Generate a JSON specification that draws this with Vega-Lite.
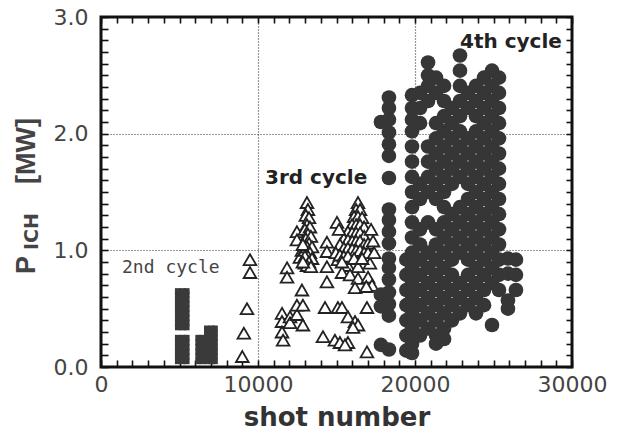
{
  "$schema": "https://vega.github.io/schema/vega-lite/v6.json",
  "width": 471,
  "height": 350,
  "autosize": {"type": "none"},
  "padding": {"left": 101, "top": 17, "right": 50, "bottom": 67},
  "background": "white",
  "config": {"view": {"stroke": "#111111", "strokeWidth": 3}},
  "datasets": {
    "second": [
      {"x":4900,"y":0.05},{"x":4900,"y":0.09},{"x":4900,"y":0.13},{"x":4900,"y":0.17},{"x":4900,"y":0.21},{"x":4900,"y":0.25},{"x":4900,"y":0.34},{"x":4900,"y":0.38},{"x":4900,"y":0.42},{"x":4900,"y":0.46},{"x":4900,"y":0.50},{"x":4900,"y":0.54},{"x":4900,"y":0.58},{"x":4900,"y":0.62},{"x":4900,"y":0.65},
      {"x":5200,"y":0.05},{"x":5200,"y":0.09},{"x":5200,"y":0.13},{"x":5200,"y":0.17},{"x":5200,"y":0.21},{"x":5200,"y":0.25},{"x":5200,"y":0.34},{"x":5200,"y":0.38},{"x":5200,"y":0.42},{"x":5200,"y":0.46},{"x":5200,"y":0.50},{"x":5200,"y":0.54},{"x":5200,"y":0.58},{"x":5200,"y":0.62},{"x":5200,"y":0.65},
      {"x":5450,"y":0.05},{"x":5450,"y":0.09},{"x":5450,"y":0.13},{"x":5450,"y":0.17},{"x":5450,"y":0.21},{"x":5450,"y":0.25},{"x":5450,"y":0.34},{"x":5450,"y":0.38},{"x":5450,"y":0.42},{"x":5450,"y":0.46},{"x":5450,"y":0.50},{"x":5450,"y":0.54},{"x":5450,"y":0.58},{"x":5450,"y":0.62},{"x":5450,"y":0.65},
      {"x":6200,"y":0.05},{"x":6200,"y":0.09},{"x":6200,"y":0.13},{"x":6200,"y":0.17},{"x":6200,"y":0.21},{"x":6200,"y":0.25},
      {"x":6450,"y":0.05},{"x":6450,"y":0.09},{"x":6450,"y":0.13},{"x":6450,"y":0.17},{"x":6450,"y":0.21},{"x":6450,"y":0.25},
      {"x":6750,"y":0.05},{"x":6750,"y":0.09},{"x":6750,"y":0.13},{"x":6750,"y":0.17},{"x":6750,"y":0.21},{"x":6750,"y":0.25},{"x":6750,"y":0.29},{"x":6750,"y":0.33},
      {"x":7050,"y":0.05},{"x":7050,"y":0.09},{"x":7050,"y":0.13},{"x":7050,"y":0.17},{"x":7050,"y":0.21},{"x":7050,"y":0.25},{"x":7050,"y":0.29},{"x":7050,"y":0.33},
      {"x":7250,"y":0.05},{"x":7250,"y":0.09},{"x":7250,"y":0.13},{"x":7250,"y":0.17},{"x":7250,"y":0.21},{"x":7250,"y":0.25},{"x":7250,"y":0.29},{"x":7250,"y":0.33}
    ],
    "third": [
      {"x":9490,"y":0.92},{"x":9490,"y":0.81},{"x":9300,"y":0.50},{"x":9100,"y":0.29},{"x":9000,"y":0.09},
      {"x":11530,"y":0.46},{"x":11530,"y":0.39},{"x":11530,"y":0.30},{"x":11600,"y":0.23},{"x":12040,"y":0.43},{"x":12040,"y":0.38},{"x":12480,"y":0.45},{"x":12480,"y":0.53},{"x":12860,"y":0.53},{"x":12860,"y":0.36},{"x":12800,"y":0.66},{"x":11850,"y":0.85},{"x":11850,"y":0.77},
      {"x":12480,"y":1.16},{"x":12480,"y":1.09},{"x":12800,"y":1.00},{"x":12670,"y":0.94},{"x":12990,"y":0.89},{"x":12990,"y":1.00},{"x":13120,"y":1.41},{"x":13180,"y":1.35},{"x":13050,"y":1.30},{"x":13250,"y":1.28},{"x":13120,"y":1.22},{"x":12990,"y":1.18},{"x":13310,"y":1.20},{"x":13180,"y":1.14},{"x":13050,"y":1.10},{"x":13370,"y":1.12},{"x":13250,"y":1.06},{"x":13120,"y":1.03},{"x":12860,"y":1.05},{"x":13440,"y":1.03},{"x":13310,"y":0.98},{"x":13180,"y":0.95},{"x":12990,"y":0.95},{"x":13440,"y":0.93},{"x":13250,"y":0.90},{"x":13120,"y":0.87},{"x":13370,"y":0.86},{"x":12860,"y":0.90},
      {"x":14390,"y":1.07},{"x":14390,"y":0.99},{"x":14390,"y":0.86},{"x":14390,"y":0.73},{"x":15090,"y":0.92},{"x":15730,"y":0.87},{"x":16370,"y":0.86},{"x":17130,"y":0.89},{"x":15350,"y":0.81},{"x":15860,"y":0.79},{"x":16370,"y":0.76},{"x":17010,"y":0.77},{"x":17260,"y":0.70},{"x":16180,"y":0.68},{"x":16900,"y":0.69},
      {"x":14270,"y":0.51},{"x":15090,"y":0.51},{"x":15350,"y":0.51},{"x":15730,"y":0.43},{"x":16940,"y":0.51},{"x":16180,"y":0.39},{"x":16370,"y":0.36},{"x":16050,"y":0.34},{"x":14140,"y":0.26},{"x":14900,"y":0.23},{"x":15220,"y":0.21},{"x":15730,"y":0.21},{"x":16940,"y":0.13},{"x":15540,"y":0.19},
      {"x":16370,"y":1.41},{"x":16250,"y":1.35},{"x":16500,"y":1.35},{"x":16120,"y":1.29},{"x":16370,"y":1.29},{"x":16630,"y":1.28},{"x":15990,"y":1.22},{"x":16250,"y":1.22},{"x":16500,"y":1.22},{"x":16760,"y":1.20},{"x":15730,"y":1.16},{"x":15990,"y":1.15},{"x":16250,"y":1.15},{"x":16500,"y":1.15},{"x":16760,"y":1.12},{"x":15470,"y":1.10},{"x":15730,"y":1.09},{"x":16000,"y":1.08},{"x":16250,"y":1.08},{"x":16500,"y":1.08},{"x":16760,"y":1.05},{"x":17010,"y":1.06},{"x":15220,"y":1.05},{"x":15470,"y":1.02},{"x":15730,"y":1.02},{"x":16000,"y":1.01},{"x":16250,"y":1.00},{"x":16500,"y":1.00},{"x":16760,"y":0.98},{"x":17010,"y":0.98},{"x":14960,"y":0.98},{"x":15220,"y":0.96},{"x":15470,"y":0.95},{"x":15730,"y":0.95},{"x":16120,"y":0.93},{"x":16630,"y":0.93},{"x":15350,"y":0.90},{"x":15030,"y":1.24},{"x":15160,"y":1.18},{"x":17200,"y":1.18},{"x":17330,"y":1.08},{"x":17400,"y":0.98}
    ],
    "fourth": [
      {"x":17830,"y":2.10},{"x":17830,"y":0.62},{"x":17830,"y":0.52},{"x":17830,"y":0.19},
      {"x":18340,"y":2.31},{"x":18340,"y":2.22},{"x":18340,"y":2.12},{"x":18340,"y":2.01},{"x":18340,"y":1.91},{"x":18340,"y":1.81},{"x":18340,"y":1.62},{"x":18340,"y":1.35},{"x":18340,"y":1.26},{"x":18340,"y":1.16},{"x":18340,"y":1.06},{"x":18340,"y":0.93},{"x":18340,"y":0.85},{"x":18340,"y":0.75},{"x":18340,"y":0.64},{"x":18340,"y":0.54},{"x":18340,"y":0.44},{"x":18340,"y":0.15},
      {"x":19450,"y":0.92},{"x":19450,"y":0.79},{"x":19450,"y":0.66},{"x":19450,"y":0.53},{"x":19450,"y":0.40},{"x":19450,"y":0.27},{"x":19450,"y":0.14},
      {"x":19810,"y":2.33},{"x":19810,"y":2.22},{"x":19810,"y":2.12},{"x":19810,"y":2.02},{"x":19810,"y":1.89},{"x":19810,"y":1.76},{"x":19810,"y":1.63},{"x":19810,"y":1.50},{"x":19810,"y":1.37},{"x":19810,"y":1.24},{"x":19810,"y":1.11},{"x":19810,"y":0.98},{"x":19810,"y":0.85},{"x":19810,"y":0.72},{"x":19810,"y":0.59},{"x":19810,"y":0.46},{"x":19810,"y":0.33},{"x":19810,"y":0.20},{"x":19810,"y":0.12},
      {"x":20320,"y":2.35},{"x":20320,"y":2.22},{"x":20320,"y":2.09},{"x":20320,"y":1.57},{"x":20320,"y":1.44},{"x":20320,"y":1.18},{"x":20320,"y":1.05},{"x":20320,"y":0.92},{"x":20320,"y":0.79},{"x":20320,"y":0.66},{"x":20320,"y":0.53},{"x":20320,"y":0.40},{"x":20320,"y":0.27},
      {"x":20830,"y":2.61},{"x":20830,"y":2.50},{"x":20830,"y":2.41},{"x":20830,"y":2.28},{"x":20830,"y":1.89},{"x":20830,"y":1.76},{"x":20830,"y":1.63},{"x":20830,"y":1.50},{"x":20830,"y":1.24},{"x":20830,"y":0.98},{"x":20830,"y":0.85},{"x":20830,"y":0.72},{"x":20830,"y":0.59},{"x":20830,"y":0.46},{"x":20830,"y":0.33},
      {"x":21340,"y":2.48},{"x":21340,"y":2.35},{"x":21340,"y":2.09},{"x":21340,"y":1.96},{"x":21340,"y":1.83},{"x":21340,"y":1.70},{"x":21340,"y":1.57},{"x":21340,"y":1.44},{"x":21340,"y":1.18},{"x":21340,"y":1.05},{"x":21340,"y":0.92},{"x":21340,"y":0.79},{"x":21340,"y":0.66},{"x":21340,"y":0.53},{"x":21340,"y":0.40},{"x":21340,"y":0.27},{"x":21340,"y":0.20},
      {"x":21850,"y":2.41},{"x":21850,"y":2.28},{"x":21850,"y":2.15},{"x":21850,"y":2.02},{"x":21850,"y":1.89},{"x":21850,"y":1.76},{"x":21850,"y":1.63},{"x":21850,"y":1.50},{"x":21850,"y":1.37},{"x":21850,"y":1.24},{"x":21850,"y":1.11},{"x":21850,"y":0.98},{"x":21850,"y":0.85},{"x":21850,"y":0.72},{"x":21850,"y":0.59},{"x":21850,"y":0.46},{"x":21850,"y":0.33},{"x":21850,"y":0.24},
      {"x":22355,"y":2.22},{"x":22355,"y":2.09},{"x":22355,"y":1.96},{"x":22355,"y":1.83},{"x":22355,"y":1.70},{"x":22355,"y":1.57},{"x":22355,"y":1.31},{"x":22355,"y":1.18},{"x":22355,"y":1.05},{"x":22355,"y":0.92},{"x":22355,"y":0.79},{"x":22355,"y":0.66},{"x":22355,"y":0.53},{"x":22355,"y":0.40},
      {"x":22865,"y":2.67},{"x":22865,"y":2.54},{"x":22865,"y":2.41},{"x":22865,"y":2.28},{"x":22865,"y":2.15},{"x":22865,"y":2.02},{"x":22865,"y":1.89},{"x":22865,"y":1.76},{"x":22865,"y":1.63},{"x":22865,"y":1.37},{"x":22865,"y":1.24},{"x":22865,"y":1.11},{"x":22865,"y":0.98},{"x":22865,"y":0.72},{"x":22865,"y":0.59},{"x":22865,"y":0.46},
      {"x":23375,"y":2.35},{"x":23375,"y":2.22},{"x":23375,"y":1.96},{"x":23375,"y":1.83},{"x":23375,"y":1.70},{"x":23375,"y":1.57},{"x":23375,"y":1.44},{"x":23375,"y":1.31},{"x":23375,"y":1.18},{"x":23375,"y":1.05},{"x":23375,"y":0.92},{"x":23375,"y":0.79},{"x":23375,"y":0.66},{"x":23375,"y":0.53},
      {"x":23885,"y":2.41},{"x":23885,"y":2.28},{"x":23885,"y":2.15},{"x":23885,"y":2.02},{"x":23885,"y":1.89},{"x":23885,"y":1.76},{"x":23885,"y":1.63},{"x":23885,"y":1.50},{"x":23885,"y":1.37},{"x":23885,"y":1.24},{"x":23885,"y":1.11},{"x":23885,"y":0.98},{"x":23885,"y":0.85},{"x":23885,"y":0.72},{"x":23885,"y":0.59},{"x":23885,"y":0.46},
      {"x":24395,"y":2.48},{"x":24395,"y":2.35},{"x":24395,"y":2.22},{"x":24395,"y":2.09},{"x":24395,"y":1.96},{"x":24395,"y":1.83},{"x":24395,"y":1.70},{"x":24395,"y":1.57},{"x":24395,"y":1.44},{"x":24395,"y":1.31},{"x":24395,"y":1.18},{"x":24395,"y":1.05},{"x":24395,"y":0.92},{"x":24395,"y":0.79},{"x":24395,"y":0.66},{"x":24395,"y":0.53},
      {"x":24905,"y":2.54},{"x":24905,"y":2.41},{"x":24905,"y":2.28},{"x":24905,"y":2.15},{"x":24905,"y":2.02},{"x":24905,"y":1.89},{"x":24905,"y":1.76},{"x":24905,"y":1.63},{"x":24905,"y":1.50},{"x":24905,"y":1.37},{"x":24905,"y":1.24},{"x":24905,"y":1.11},{"x":24905,"y":0.98},{"x":24905,"y":0.85},{"x":24905,"y":0.72},{"x":24905,"y":0.36},
      {"x":25350,"y":2.48},{"x":25350,"y":2.35},{"x":25350,"y":2.22},{"x":25350,"y":2.09},{"x":25350,"y":1.96},{"x":25350,"y":1.83},{"x":25350,"y":1.70},{"x":25350,"y":1.57},{"x":25350,"y":1.44},{"x":25350,"y":1.31},{"x":25350,"y":1.18},{"x":25350,"y":1.05},{"x":25350,"y":0.92},{"x":25350,"y":0.79},{"x":25350,"y":0.66},
      {"x":25920,"y":0.93},{"x":25920,"y":0.80},{"x":25920,"y":0.57},{"x":25920,"y":0.50},
      {"x":26430,"y":0.92},{"x":26430,"y":0.79},{"x":26430,"y":0.66}
    ]
  },
  "layer": [
    {
      "data": {"name": "second"},
      "mark": {"type": "point", "shape": "square", "filled": true, "size": 36, "color": "#3a3a3a", "opacity": 1},
      "encoding": {
        "x": {
          "field": "x", "type": "quantitative",
          "scale": {"domain": [0, 30000], "nice": false, "zero": false},
          "axis": {
            "orient": "bottom",
            "values": [0,1000,2000,3000,4000,5000,6000,7000,8000,9000,10000,11000,12000,13000,14000,15000,16000,17000,18000,19000,20000,21000,22000,23000,24000,25000,26000,27000,28000,29000,30000],
            "format": "d",
            "labelExpr": "datum.value % 10000 === 0 ? datum.label : ''",
            "labelOverlap": false, "labelFlush": false, "labelBound": false,
            "domain": false, "offset": -7,
            "ticks": true, "tickSize": 7, "tickWidth": 1.6, "tickColor": "#111111",
            "grid": false,
            "labelFont": "DejaVu Sans", "labelFontSize": 22, "labelColor": "#444444", "labelPadding": 7,
            "title": "shot number", "titleFont": "DejaVu Sans", "titleFontWeight": "bold", "titleFontSize": 26, "titleColor": "#333333", "titlePadding": 9
          }
        },
        "y": {
          "field": "y", "type": "quantitative",
          "scale": {"domain": [0, 3], "nice": false, "zero": false},
          "axis": {
            "orient": "left",
            "values": [0,0.1,0.2,0.3,0.4,0.5,0.6,0.7,0.8,0.9,1,1.1,1.2,1.3,1.4,1.5,1.6,1.7,1.8,1.9,2,2.1,2.2,2.3,2.4,2.5,2.6,2.7,2.8,2.9,3],
            "labelExpr": "abs(datum.value - round(datum.value)) < 0.001 ? format(datum.value, '.1f') : ''",
            "labelOverlap": false, "labelFlush": false, "labelBound": false,
            "domain": false, "offset": -7,
            "ticks": true, "tickSize": 7, "tickWidth": 1.6, "tickColor": "#111111",
            "grid": false,
            "labelFont": "DejaVu Sans", "labelFontSize": 22, "labelColor": "#444444", "labelPadding": 13,
            "title": null
          }
        }
      }
    },
    {
      "data": {"name": "third"},
      "mark": {"type": "point", "shape": "triangle-up", "filled": false, "size": 160, "fill": "white", "fillOpacity": 1, "stroke": "#222222", "strokeWidth": 1.8, "opacity": 1},
      "encoding": {
        "x": {
          "field": "x", "type": "quantitative",
          "scale": {"domain": [0, 30000], "nice": false, "zero": false},
          "axis": {"orient": "bottom", "values": [10000, 20000], "labels": false, "ticks": false, "domain": false, "grid": true, "gridColor": "#333333", "gridDash": [1, 2], "gridWidth": 1.2, "title": null}
        },
        "y": {
          "field": "y", "type": "quantitative",
          "scale": {"domain": [0, 3], "nice": false, "zero": false},
          "axis": {"orient": "left", "values": [1, 2], "labels": false, "ticks": false, "domain": false, "grid": true, "gridColor": "#333333", "gridDash": [1, 2], "gridWidth": 1.2, "title": null}
        }
      }
    },
    {
      "data": {"name": "fourth"},
      "mark": {"type": "circle", "size": 215, "color": "#363636", "opacity": 1},
      "encoding": {
        "x": {
          "field": "x", "type": "quantitative",
          "scale": {"domain": [0, 30000], "nice": false, "zero": false},
          "axis": {"orient": "top", "values": [0,1000,2000,3000,4000,5000,6000,7000,8000,9000,10000,11000,12000,13000,14000,15000,16000,17000,18000,19000,20000,21000,22000,23000,24000,25000,26000,27000,28000,29000,30000], "labels": false, "domain": false, "grid": false, "offset": -6, "ticks": true, "tickSize": 6, "tickWidth": 1.6, "tickColor": "#111111", "title": null}
        },
        "y": {
          "field": "y", "type": "quantitative",
          "scale": {"domain": [0, 3], "nice": false, "zero": false},
          "axis": {"orient": "right", "values": [0,0.1,0.2,0.3,0.4,0.5,0.6,0.7,0.8,0.9,1,1.1,1.2,1.3,1.4,1.5,1.6,1.7,1.8,1.9,2,2.1,2.2,2.3,2.4,2.5,2.6,2.7,2.8,2.9,3], "labels": false, "domain": false, "grid": false, "offset": -6, "ticks": true, "tickSize": 6, "tickWidth": 1.6, "tickColor": "#111111", "title": null}
        }
      }
    },
    {
      "data": {"values": [{"label": "2nd cycle", "x": 1340, "y": 0.85}]},
      "mark": {"type": "text", "font": "DejaVu Sans Mono", "fontSize": 18, "align": "left", "baseline": "middle", "color": "#444444"},
      "encoding": {
        "text": {"field": "label"},
        "x": {"field": "x", "type": "quantitative", "axis": null},
        "y": {"field": "y", "type": "quantitative", "axis": null}
      }
    },
    {
      "data": {"values": [{"label": "3rd cycle", "x": 10445, "y": 1.62}, {"label": "4th cycle", "x": 22865, "y": 2.79}]},
      "mark": {"type": "text", "font": "DejaVu Sans", "fontWeight": "bold", "fontSize": 20, "align": "left", "baseline": "middle", "color": "#222222"},
      "encoding": {
        "text": {"field": "label"},
        "x": {"field": "x", "type": "quantitative", "axis": null},
        "y": {"field": "y", "type": "quantitative", "axis": null}
      }
    },
    {
      "data": {"values": [{"label": "P", "x": -4713, "y": 0.874}, {"label": "[MW]", "x": -4713, "y": 1.851}]},
      "mark": {"type": "text", "font": "Liberation Sans", "fontWeight": "bold", "fontSize": 27, "angle": 270, "align": "center", "baseline": "middle", "color": "#444444"},
      "encoding": {
        "text": {"field": "label"},
        "x": {"field": "x", "type": "quantitative", "axis": null},
        "y": {"field": "y", "type": "quantitative", "axis": null}
      }
    },
    {
      "data": {"values": [{"label": "ICH", "x": -4400, "y": 1.16}]},
      "mark": {"type": "text", "font": "DejaVu Sans", "fontWeight": "bold", "fontSize": 19, "angle": 270, "align": "center", "baseline": "middle", "color": "#444444"},
      "encoding": {
        "text": {"field": "label"},
        "x": {"field": "x", "type": "quantitative", "axis": null},
        "y": {"field": "y", "type": "quantitative", "axis": null}
      }
    }
  ],
  "resolve": {"axis": {"x": "independent", "y": "independent"}}
}
